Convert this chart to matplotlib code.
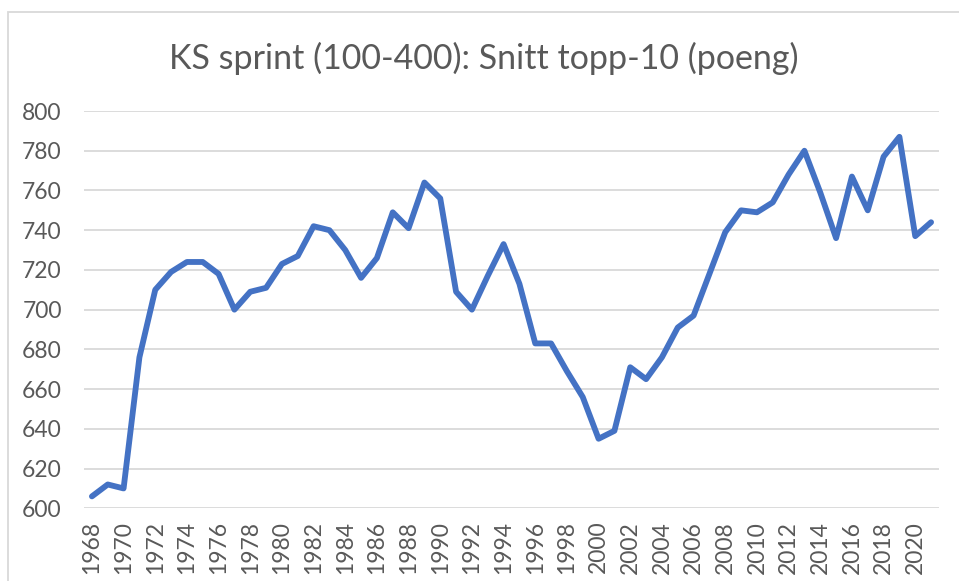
import matplotlib
matplotlib.use("Agg")
import matplotlib.pyplot as plt
from matplotlib.patches import Rectangle

# data
years = list(range(1968, 2022))
points = [606, 612, 610, 676, 710, 719, 724, 724, 718, 700,
          709, 711, 723, 727, 742, 740, 730, 716, 726, 749,
          741, 764, 756, 709, 700, 717, 733, 713, 683, 683,
          669, 656, 635, 639, 671, 665, 676, 691, 697, 718,
          739, 750, 749, 754, 768, 780, 759, 736, 767, 750,
          777, 787, 737, 744]
yticks = list(range(600, 801, 20))
title = "KS sprint (100-400): Snitt topp-10 (poeng)"

plt.rcParams['font.family'] = ['Lato', 'DejaVu Sans']
grey = '#595959'

fig = plt.figure(figsize=(9.59, 5.81), dpi=100)
ax = fig.add_axes([84/959, 1 - 508.3/581, 855/959, 397.3/581])

xpos = list(range(len(years)))
ax.plot(xpos, points, color='#4472C4', linewidth=4.2,
        solid_joinstyle='round', solid_capstyle='round', zorder=3)

ax.set_xlim(-0.5, len(years) - 0.5)
ax.set_ylim(600, 800)
ax.set_yticks(yticks)
ax.set_yticklabels([str(v) for v in yticks])
ax.set_xticks(xpos[::2])
ax.set_xticklabels([str(y) for y in years[::2]], rotation=90)

ax.grid(axis='y', color='#D9D9D9', linewidth=1.3, zorder=0)
ax.set_axisbelow(True)
for s in ax.spines.values():
    s.set_visible(False)
ax.tick_params(axis='both', length=0, colors=grey, labelsize=16.5)
ax.tick_params(axis='y', pad=16)
ax.tick_params(axis='x', pad=9)

fig.text(0.5 + 4/959, 1 - 58/581, title, ha='center', va='center',
         fontsize=24.5, color=grey)

# chart area border
fig.patches.append(Rectangle((8/959, -0.1), 1.0, 1 - 12/581 + 0.1,
                             transform=fig.transFigure, fill=False,
                             edgecolor='#D9D9D9', linewidth=1.3))

fig.savefig('out.png', dpi=100)
